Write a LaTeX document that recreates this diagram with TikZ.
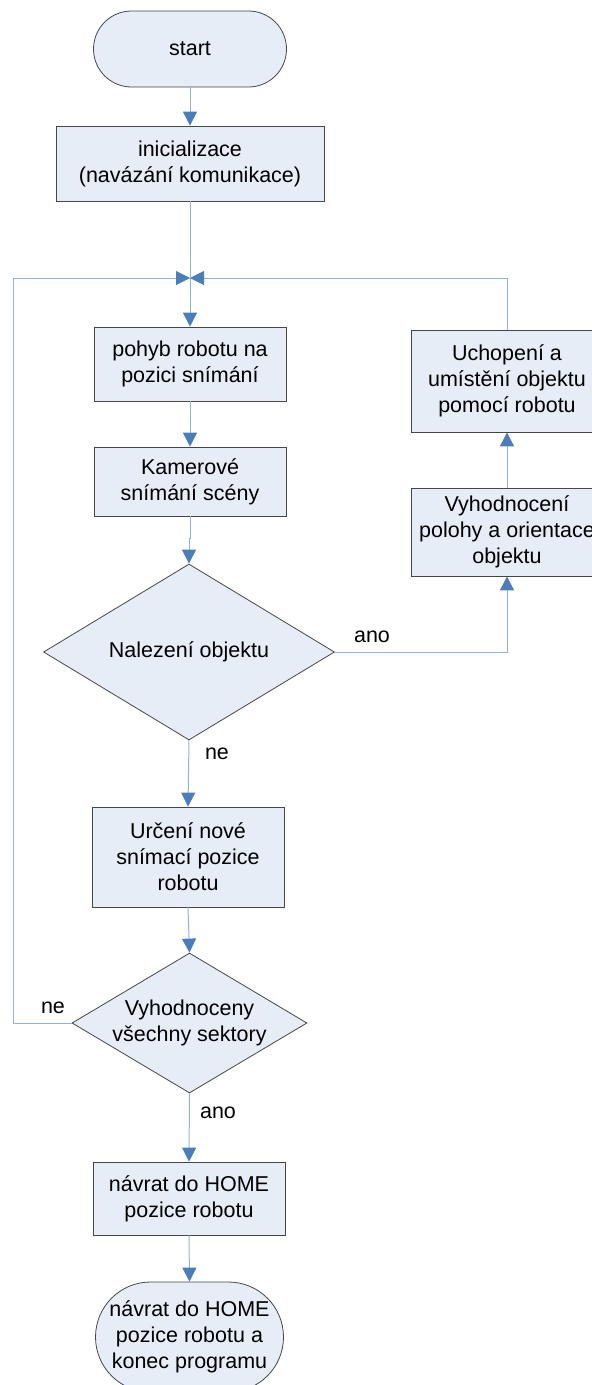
\documentclass[tikz,border=0pt]{standalone}
\usepackage{fontspec}
\setmainfont{Liberation Sans}
\usetikzlibrary{arrows.meta,shapes.geometric}
\definecolor{boxfill}{RGB}{231,237,247}
\definecolor{boxline}{RGB}{70,70,70}
\definecolor{linkline}{RGB}{145,178,224}
\definecolor{tipblue}{RGB}{74,126,187}
\begin{document}
\begin{tikzpicture}[x=1pt,y=-1pt,
  every node/.style={font=\fontsize{21.5}{26}\selectfont},
  stepbox/.style={draw=boxline,fill=boxfill,line width=0.8pt,rectangle,
    align=center,inner sep=0pt,minimum width=192pt},
  termbox/.style={stepbox,rounded corners=38pt},
  decision/.style={draw=boxline,fill=boxfill,line width=0.8pt,diamond,
    inner sep=0pt,aspect=1.65},
  dtext/.style={align=center,inner sep=0pt},
  conn/.style={draw=linkline,line width=1pt},
  flow/.style={conn,-{Triangle[length=14pt,width=14pt,color=tipblue]}},
  lbl/.style={inner sep=0pt}]
\clip (0,0) rectangle (592,1385);
\useasboundingbox (0,0) rectangle (592,1385);

% main column
\node[termbox,minimum width=193pt,minimum height=76pt] (start) at (190,49) {start};
\node[stepbox,minimum width=268pt,minimum height=75pt] (init) at (190,163.5)
  {inicializace\\(navázání komunikace)};
\coordinate (m) at (190,278);
\node[stepbox,minimum height=74pt] (pohyb) at (190,364) {pohyb robotu na\\pozici snímání};
\node[stepbox,minimum height=69pt] (kam) at (190,481.5) {Kamerové\\snímání scény};
\node[decision,minimum width=291pt,minimum height=176pt] (dia1) at (189,652) {};
\node[dtext] (dia1t) at (dia1.center) {Nalezení objektu};
\node[stepbox,minimum height=100pt] (urceni) at (188,857) {Určení nové\\snímací pozice\\robotu};
\node[decision,minimum width=235pt,minimum height=140pt] (dia2) at (189.5,1023) {};
\node[dtext] (dia2t) at (dia2.center) {Vyhodnoceny\\všechny sektory};
\node[stepbox,minimum height=73pt] (navrat) at (189,1198.5) {návrat do HOME\\pozice robotu};
\node[termbox,minimum width=188pt,minimum height=110pt,rounded corners=55pt] (konec) at (189.5,1337)
  {návrat do HOME\\pozice robotu a\\konec programu};

% right branch
\node[stepbox,minimum height=88pt] (vyhod) at (507,532) {Vyhodnocení\\polohy a orientace\\objektu};
\node[stepbox,minimum height=102pt] (uchop) at (507,381) {Uchopení a\\umístění objektu\\pomocí robotu};

\coordinate (lc) at (13,278);

% connectors
\draw[flow] (start.south) -- (init.north);
\draw[flow] (init.south) -- (pohyb.north);
\draw[flow] (pohyb.south) -- (kam.north);
\draw[flow] (kam.south) -- ++(0,22) -| (dia1.north);
\draw[flow] (dia1.south) -- (urceni.north);
\draw[flow] (urceni.south) -- (dia2.north);
\draw[flow] (dia2.south) -- (navrat.north);
\draw[flow] (navrat.south) -- (konec.north);
\draw[flow] (dia1.east) -| (vyhod.south);
\draw[flow] (vyhod.north) -- (uchop.south);
\draw[flow] (uchop.north) |- (m);
\draw[flow] (dia2.west) -| (lc) -- (m);

% branch labels
\node[lbl] (l1) at (372,637) {ano};
\node[lbl] (l2) at (217,754) {ne};
\node[lbl] (l3) at (53,1008) {ne};
\node[lbl] (l4) at (218,1113) {ano};
\end{tikzpicture}
\end{document}
